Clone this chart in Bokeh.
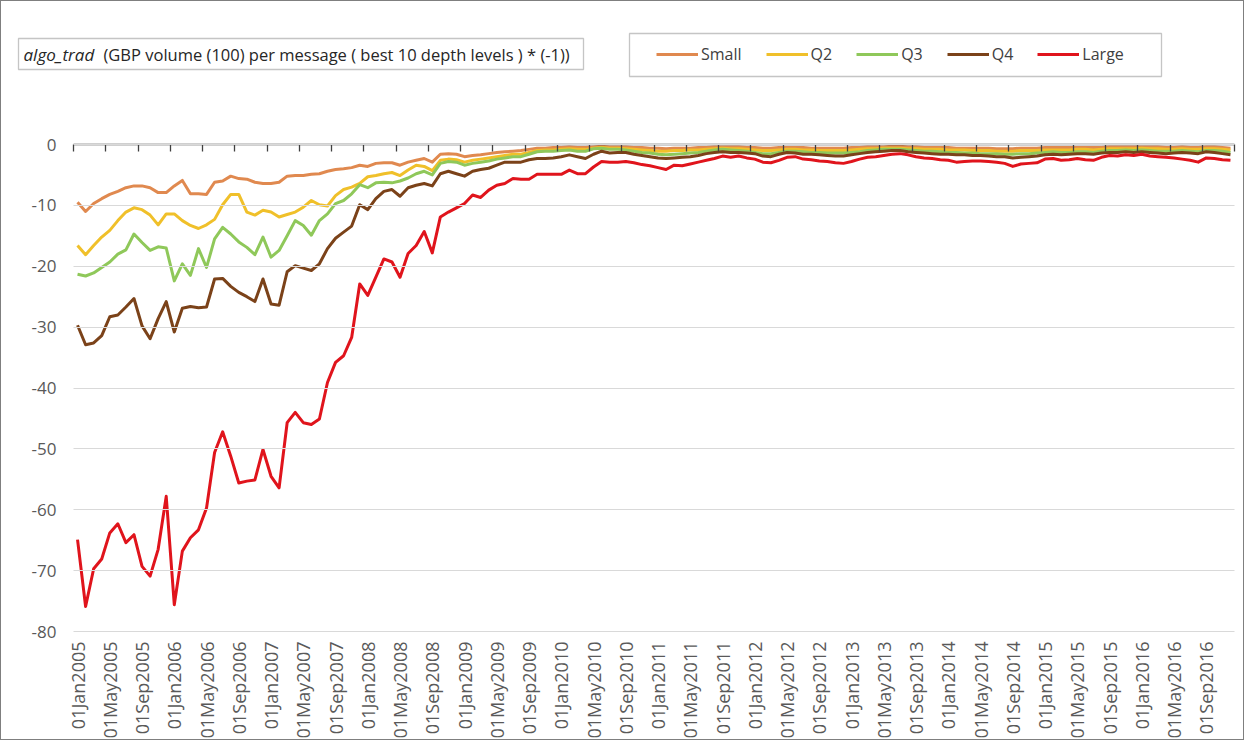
import math
from bokeh.plotting import figure
from bokeh.models import (FixedTicker, Label, Legend, LegendItem, LinearAxis,
                          Range1d, BoxAnnotation)
from bokeh.embed import file_html
from bokeh.resources import INLINE

# ---------------- data ----------------
tick_labels = [
    "01Jan2005", "01May2005", "01Sep2005", "01Jan2006", "01May2006", "01Sep2006",
    "01Jan2007", "01May2007", "01Sep2007", "01Jan2008", "01May2008", "01Sep2008",
    "01Jan2009", "01May2009", "01Sep2009", "01Jan2010", "01May2010", "01Sep2010",
    "01Jan2011", "01May2011", "01Sep2011", "01Jan2012", "01May2012", "01Sep2012",
    "01Jan2013", "01May2013", "01Sep2013", "01Jan2014", "01May2014", "01Sep2014",
    "01Jan2015", "01May2015", "01Sep2015", "01Jan2016", "01May2016", "01Sep2016",
]

series_names = ["Small", "Q2", "Q3", "Q4", "Large"]

small = [
    -9.5, -11.0, -9.7, -8.9, -8.2, -7.7, -7.1, -6.8, -6.8, -7.1,
    -7.9, -7.9, -6.8, -5.9, -8.1, -8.1, -8.2, -6.2, -6.0, -5.2,
    -5.6, -5.7, -6.2, -6.4, -6.4, -6.2, -5.2, -5.1, -5.1, -4.9,
    -4.8, -4.4, -4.1, -4.0, -3.8, -3.4, -3.6, -3.1, -3.0, -3.0,
    -3.4, -2.9, -2.6, -2.3, -2.9, -1.6, -1.5, -1.6, -2.0, -1.8,
    -1.7, -1.5, -1.3, -1.2, -1.1, -1.0, -0.8, -0.6, -0.6, -0.5,
    -0.5, -0.4, -0.5, -0.5,
    -0.4, -0.3, -0.4, -0.4, -0.4, -0.5, -0.5, -0.6, -0.6, -0.7,
    -0.6, -0.6, -0.6, -0.5, -0.5, -0.4, -0.4, -0.4, -0.4, -0.5,
    -0.5, -0.6, -0.6, -0.5, -0.5, -0.5, -0.5, -0.6, -0.6, -0.6,
    -0.6, -0.6, -0.5, -0.5, -0.4, -0.4, -0.4, -0.3, -0.3, -0.4,
    -0.4, -0.5, -0.5, -0.5, -0.5, -0.6, -0.6, -0.6, -0.6, -0.6,
    -0.7, -0.7, -0.7, -0.6, -0.6, -0.6, -0.5, -0.5, -0.5, -0.5,
    -0.5, -0.5, -0.5, -0.5, -0.4, -0.4, -0.4, -0.4, -0.4, -0.4,
    -0.4, -0.5, -0.5, -0.4, -0.5, -0.5, -0.4, -0.4, -0.5, -0.6,
]

q2 = [
    -16.6, -18.1, -16.6, -15.2, -14.1, -12.5, -11.1, -10.4, -10.7, -11.6,
    -13.2, -11.4, -11.4, -12.5, -13.3, -13.8, -13.2, -12.3, -9.9, -8.2,
    -8.2, -11.1, -11.6, -10.8, -11.1, -11.9, -11.5, -11.1, -10.3, -9.2,
    -9.9, -10.1, -8.4, -7.4, -7.0, -6.4, -5.3, -5.1, -4.8, -4.6,
    -5.1, -4.2, -3.4, -3.6, -4.3, -2.6, -2.4, -2.5, -2.9, -2.6,
    -2.4, -2.2, -2.0, -1.8, -1.6, -1.6, -1.3, -1.0, -0.9, -0.9,
    -0.8, -0.7, -0.8, -0.8,
    -0.6, -0.5, -0.6, -0.6, -0.7, -0.8, -0.9, -1.0, -1.1, -1.1,
    -1.0, -1.0, -0.9, -0.9, -0.8, -0.7, -0.6, -0.7, -0.7, -0.8,
    -0.9, -1.0, -1.0, -0.9, -0.8, -0.8, -0.9, -0.9, -1.0, -1.0,
    -1.0, -1.0, -0.9, -0.8, -0.7, -0.7, -0.6, -0.6, -0.6, -0.7,
    -0.7, -0.8, -0.8, -0.8, -0.9, -0.9, -0.9, -1.0, -1.0, -1.0,
    -1.1, -1.1, -1.1, -1.0, -1.0, -1.0, -0.9, -0.9, -0.9, -0.9,
    -0.8, -0.8, -0.9, -0.8, -0.7, -0.7, -0.7, -0.7, -0.6, -0.7,
    -0.7, -0.8, -0.8, -0.7, -0.8, -0.8, -0.7, -0.7, -0.8, -0.9,
]

q3 = [
    -21.3, -21.6, -21.1, -20.2, -19.3, -18.0, -17.3, -14.7, -16.1, -17.4,
    -16.8, -17.0, -22.4, -19.6, -21.5, -17.1, -20.2, -15.5, -13.6, -14.7,
    -16.0, -16.9, -18.1, -15.2, -18.5, -17.4, -15.0, -12.5, -13.3, -14.9,
    -12.5, -11.4, -9.7, -9.2, -8.1, -6.6, -7.1, -6.3, -6.2, -6.3,
    -6.0, -5.5, -4.8, -4.4, -5.0, -3.1, -2.8, -2.9, -3.4, -3.1,
    -2.9, -2.7, -2.4, -2.2, -2.0, -2.0, -1.6, -1.2, -1.1, -1.1,
    -1.0, -0.9, -1.1, -1.1,
    -0.7, -0.6, -0.8, -0.8, -0.9, -1.1, -1.3, -1.4, -1.6, -1.7,
    -1.6, -1.5, -1.4, -1.3, -1.1, -0.9, -0.8, -0.9, -1.0, -1.1,
    -1.3, -1.5, -1.5, -1.3, -1.1, -1.1, -1.2, -1.3, -1.3, -1.4,
    -1.4, -1.4, -1.3, -1.2, -1.0, -0.9, -0.8, -0.8, -0.8, -0.9,
    -1.0, -1.1, -1.1, -1.2, -1.3, -1.3, -1.4, -1.4, -1.5, -1.5,
    -1.5, -1.6, -1.6, -1.5, -1.5, -1.4, -1.3, -1.2, -1.3, -1.3,
    -1.2, -1.2, -1.3, -1.1, -1.0, -1.0, -0.9, -1.0, -0.9, -1.0,
    -1.1, -1.1, -1.1, -1.0, -1.1, -1.2, -1.0, -1.0, -1.1, -1.3,
]

q4 = [
    -29.7, -32.9, -32.6, -31.4, -28.3, -28.0, -26.7, -25.3, -29.8, -31.9,
    -28.6, -25.8, -30.8, -26.9, -26.6, -26.8, -26.7, -22.1, -22.0, -23.3,
    -24.3, -25.0, -25.8, -22.1, -26.2, -26.4, -20.9, -19.9, -20.3, -20.7,
    -19.6, -17.1, -15.4, -14.4, -13.4, -9.9, -10.7, -8.9, -7.7, -7.4,
    -8.5, -7.1, -6.7, -6.4, -6.8, -4.8, -4.4, -4.8, -5.2, -4.4,
    -4.1, -3.9, -3.4, -2.9, -2.9, -2.9, -2.5, -2.3, -2.3, -2.2,
    -2.0, -1.7, -2.0, -2.3,
    -1.6, -1.1, -1.4, -1.3, -1.3, -1.6, -1.8, -2.0, -2.2, -2.3,
    -2.2, -2.1, -2.0, -1.8, -1.5, -1.3, -1.2, -1.3, -1.3, -1.4,
    -1.5, -1.9, -2.0, -1.6, -1.3, -1.4, -1.6, -1.6, -1.7, -1.8,
    -1.9, -1.9, -1.7, -1.5, -1.3, -1.2, -1.1, -1.0, -1.0, -1.2,
    -1.3, -1.4, -1.5, -1.6, -1.6, -1.7, -1.7, -1.8, -1.8, -1.9,
    -2.0, -2.0, -2.2, -2.1, -2.0, -1.9, -1.7, -1.6, -1.7, -1.6,
    -1.5, -1.5, -1.6, -1.4, -1.3, -1.3, -1.2, -1.3, -1.2, -1.3,
    -1.4, -1.5, -1.4, -1.3, -1.4, -1.5, -1.2, -1.3, -1.5, -1.7,
]

large = [
    -64.9, -75.9, -69.7, -68.1, -63.8, -62.3, -65.4, -64.1, -69.3, -70.9,
    -66.5, -57.8, -75.6, -66.8, -64.6, -63.3, -59.7, -50.6, -47.2, -51.2,
    -55.6, -55.3, -55.1, -50.1, -54.5, -56.4, -45.7, -44.0, -45.7, -46.0,
    -45.1, -39.1, -35.8, -34.7, -31.7, -22.9, -24.8, -21.8, -18.8, -19.3,
    -21.8, -17.9, -16.6, -14.3, -17.8, -11.9, -11.1, -10.4, -9.7, -8.3,
    -8.7, -7.5, -6.7, -6.4, -5.6, -5.7, -5.7, -4.9, -4.9, -4.9,
    -4.9, -4.2, -4.8, -4.8,
    -3.7, -2.8, -2.9, -2.9, -2.8, -3.0, -3.3, -3.5, -3.8, -4.1,
    -3.4, -3.5, -3.2, -2.9, -2.6, -2.3, -1.9, -2.1, -1.9, -2.2,
    -2.4, -2.9, -3.0, -2.6, -2.1, -2.0, -2.4, -2.5, -2.7, -2.8,
    -3.0, -3.1, -2.8, -2.4, -2.1, -2.0, -1.8, -1.6, -1.5, -1.7,
    -2.0, -2.2, -2.3, -2.5, -2.6, -2.9, -2.8, -2.7, -2.7, -2.8,
    -2.9, -3.1, -3.6, -3.2, -3.1, -3.0, -2.4, -2.3, -2.6, -2.5,
    -2.3, -2.5, -2.6, -2.1, -1.8, -1.9, -1.7, -1.8, -1.6, -1.9,
    -2.0, -2.1, -2.2, -2.4, -2.6, -2.9, -2.2, -2.3, -2.5, -2.6,
]

y_ticks = [-80, -70, -60, -50, -40, -30, -20, -10, 0]
y_min, y_max = -80, 0

# ---------------- layout (pixels) ----------------
W, H = 1244, 740
FL, FR, FT, FB = 4, 1240, 4, 736           # frame edges on the canvas
PL, PR, PT, PB = 72, 1233, 143, 630         # plot area (axes box) on the canvas

n = len(large)
months = list(range(n))
x0, x1 = -0.5, n - 0.5
pxm = (PR - PL) / (x1 - x0)
pyu = (PB - PT) / (y_max - y_min)
x_range = Range1d(x0 - (PL - FL) / pxm, x1 + (FR - PR) / pxm)
y_range = Range1d(y_min - (FB - PB) / pyu, y_max + (PT - FT) / pyu)

FONT = "Open Sans"
GREY = "#595959"
colors = ["#E0894F", "#F0C02A", "#8FC85A", "#7B4219", "#E0141C"]

p = figure(width=W, height=H, output_backend="svg", toolbar_location=None,
           x_range=x_range, y_range=y_range,
           min_border_left=FL, min_border_right=W - FR, min_border_top=FT,
           min_border_bottom=H - FB)
p.styles = {"border": "1px solid #7f7f7f"}
p.outline_line_color = None
p.background_fill_color = "white"
p.border_fill_color = "white"
p.xgrid.grid_line_color = None
p.ygrid.grid_line_color = None

# y axis at the left edge of the plot area; its inward ticks act as gridlines
p.yaxis.fixed_location = x0
p.yaxis.bounds = (y_min, y_max)
p.yaxis.ticker = FixedTicker(ticks=y_ticks)
p.yaxis.major_label_overrides = {t: str(t) for t in y_ticks}
p.yaxis.axis_line_color = None
p.yaxis.major_tick_line_color = "#d9d9d9"
p.yaxis.major_tick_line_width = 1
p.yaxis.minor_tick_line_color = None
p.yaxis.major_tick_in = PR - PL
p.yaxis.major_tick_out = 0
p.yaxis.major_label_standoff = 17
p.yaxis.major_label_text_font = FONT
p.yaxis.major_label_text_font_size = "17px"
p.yaxis.major_label_text_color = GREY

# bottom axis: labels only, below the -80 line
p.xaxis.fixed_location = y_min
p.xaxis.ticker = FixedTicker(ticks=months[::4])
p.xaxis.major_label_overrides = {m: lab for m, lab in zip(months[::4], tick_labels)}
p.xaxis.major_label_orientation = math.pi / 2
p.xaxis.axis_line_color = None
p.xaxis.major_tick_line_color = None
p.xaxis.minor_tick_line_color = None
p.xaxis.major_tick_in = 0
p.xaxis.major_tick_out = 0
p.xaxis.major_label_standoff = 10
p.xaxis.major_label_text_font = FONT
p.xaxis.major_label_text_font_size = "18px"
p.xaxis.major_label_text_color = GREY

# axis line at y = 0 with tick marks between categories
top_axis = LinearAxis(ticker=FixedTicker(ticks=[m - 0.5 for m in range(0, n + 1, 4)]),
                      fixed_location=0, bounds=(x0, x1))
top_axis.major_label_text_color = None
top_axis.major_tick_in = 7
top_axis.major_tick_out = 0
top_axis.minor_tick_line_color = None
top_axis.axis_line_color = "#404040"
top_axis.axis_line_width = 1.3
top_axis.major_tick_line_color = "#404040"
top_axis.major_tick_line_width = 1.3
p.add_layout(top_axis, "above")

# lines
items = []
for name, vals, col in zip(series_names, [small, q2, q3, q4, large], colors):
    r = p.line(months, vals, line_width=3, line_color=col, line_join="round")
    items.append(LegendItem(label=name, renderers=[r]))


def sx(px):  # canvas x -> frame-relative screen x
    return px - FL


def sy(py):  # canvas y (top-down) -> frame-relative screen y (bottom-up)
    return FB - py


# legend (box drawn separately)
p.add_layout(BoxAnnotation(left=sx(628), right=sx(1160), top=sy(32), bottom=sy(75),
                           left_units="screen", right_units="screen",
                           bottom_units="screen", top_units="screen",
                           fill_color="white", fill_alpha=1,
                           line_color="#404040", line_width=1.3))
legend = Legend(items=items, orientation="horizontal", location=(sx(655), sy(64)),
                glyph_width=42, glyph_height=20, label_height=20, label_standoff=3,
                spacing=24, padding=0, margin=0,
                border_line_color=None, background_fill_alpha=0,
                label_text_font=FONT, label_text_font_size="16px",
                label_text_color="#404040")
p.add_layout(legend)

# title box
p.add_layout(BoxAnnotation(left=sx(17), right=sx(582), top=sy(37), bottom=sy(68),
                           left_units="screen", right_units="screen",
                           bottom_units="screen", top_units="screen",
                           fill_color="white", fill_alpha=1,
                           line_color="#404040", line_width=1.3))
p.add_layout(Label(x=sx(22), y=sy(52.5), x_units="screen", y_units="screen",
                   text="algo_trad", text_font=FONT, text_font_style="italic",
                   text_font_size="17px", text_color="#262626",
                   text_baseline="middle"))
p.add_layout(Label(x=sx(102), y=sy(52.5), x_units="screen", y_units="screen",
                   text="(GBP volume (100) per message ( best 10 depth levels ) * (-1))",
                   text_font=FONT, text_font_size="16.5px", text_color="#262626",
                   text_baseline="middle"))

open("out.html", "w").write(file_html(p, INLINE))
